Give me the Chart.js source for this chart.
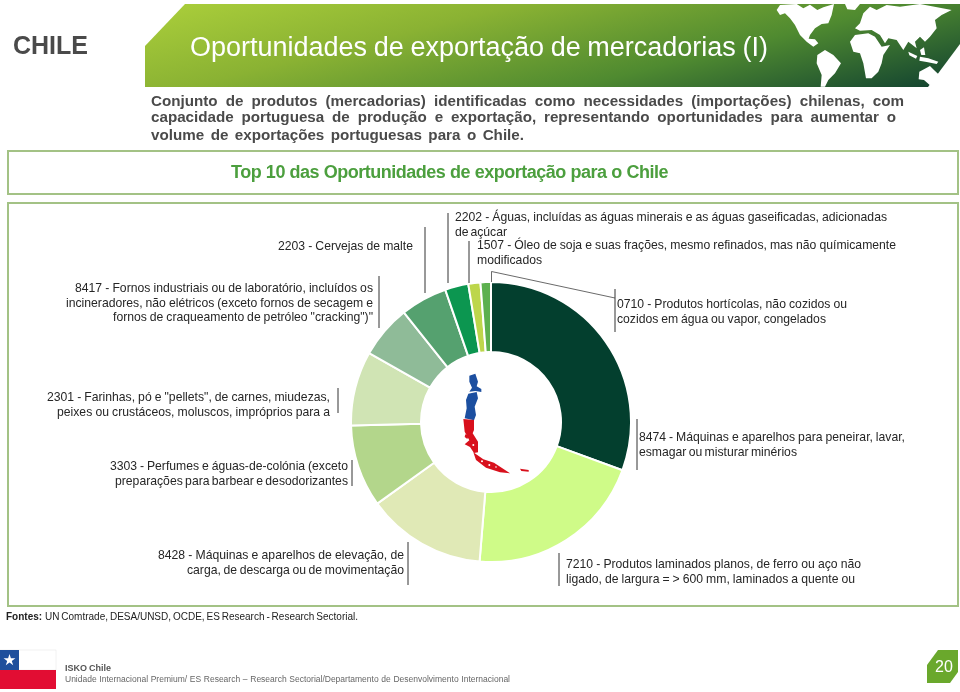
<!DOCTYPE html>
<html lang="pt">
<head>
<meta charset="utf-8">
<title>Oportunidades de exportação de mercadorias (I)</title>
<script src="https://cdn.jsdelivr.net/npm/chart.js@4"></script>
<style>
  html, body { margin: 0; padding: 0; background: #fff; }
  #page { position: relative; width: 960px; height: 692px; overflow: hidden; background: #fff;
          font-family: "Liberation Sans", Arial, sans-serif; }
  #page svg { position: absolute; }
  .box { position: absolute; box-sizing: border-box; border: 2px solid #a3c285; }
  .line { position: absolute; white-space: nowrap; line-height: 1; }
  .label { font-size: 12.2px; color: #262626; }
  .intro { font-size: 15.2px; font-weight: bold; color: #4a4a4a; }
  #donut { position: absolute; left: 350px; top: 281px; }
</style>
</head>
<body>
<div id="page">
  <svg style="left:0;top:0" width="960" height="692" viewBox="0 0 960 692">
    <defs>
      <linearGradient id="headerFill" gradientUnits="userSpaceOnUse" x1="185" y1="4" x2="250" y2="265">
        <stop offset="0" stop-color="#a8cc3a"/>
        <stop offset="0.3" stop-color="#8ab233"/>
        <stop offset="0.65" stop-color="#4f8a30"/>
        <stop offset="1" stop-color="#0f3f30"/>
      </linearGradient>
    </defs>
    <polygon points="185,4 960,4 960,44 928,87 145,87 145,46" fill="url(#headerFill)"/>
    <g transform="translate(760,0) scale(0.3333)" fill="#fff">
      <polygon points="50,30 60,15 110,12 130,25 150,14 172,30 190,22 222,12 215,45 205,70 185,72 165,85 150,105 146,116 165,118 175,130 160,140 140,125 120,105 105,75 90,55 75,40 60,45"/>
      <polygon points="172,165 195,150 220,165 243,190 225,220 205,240 195,260 182,260 185,225 170,190"/>
      <polygon points="270,125 285,105 325,100 345,110 365,140 390,135 370,165 365,190 355,215 335,235 318,235 310,190 300,160 280,155"/>
      <polygon points="285,85 300,70 310,40 330,20 350,30 380,15 420,20 480,12 575,30 545,45 525,60 530,85 510,110 495,125 480,110 465,125 470,145 445,125 430,150 410,120 385,115 375,130 360,105 335,90 300,92"/>
      <polygon points="478,215 510,198 522,210 545,232 510,256 492,240 476,238"/>
      <polygon points="445,155 472,168 468,176 448,166"/>
      <polygon points="480,170 505,175 535,185 530,192 500,186 478,182"/>
      <polygon points="255,12 300,12 285,30 262,28"/>
      <polygon points="480,150 492,142 496,165 484,165"/>
    </g>
    <!-- badge -->
    <polygon points="938,650 958,650 958,672 950,683 927,683 927,665" fill="#6aa82c"/>
    <!-- flag -->
    <rect x="0" y="650" width="56" height="20" fill="#fff" stroke="#e4e4e4" stroke-width="0.5"/>
    <rect x="0" y="650" width="19" height="20" fill="#1e4f9c"/>
    <rect x="0" y="670" width="56" height="19" fill="#e20d33"/>
    <polygon points="9.5,654 10.9,658.3 15.4,658.3 11.8,661 13.2,665.3 9.5,662.6 5.8,665.3 7.2,661 3.6,658.3 8.1,658.3" fill="#fff"/>
  </svg>

  <div class="box" style="left:7px;top:150px;width:952px;height:45px"></div>
  <div class="box" style="left:7px;top:202px;width:952px;height:405px"></div>

  <canvas id="donut" width="282" height="282" style="width:282px;height:282px"></canvas>

  <!-- mapa do Chile no centro -->
  <svg style="left:450px;top:365px" width="90" height="115" viewBox="0 0 270 345">
    <g fill="#1c4fa0">
      <polygon points="58,32 76,26 84,50 80,64 94,72 94,81 76,78 58,80 66,68 58,50"/>
      <polygon points="55,86 80,81 84,100 74,125 78,150 72,166 44,160 50,130 48,105"/>
    </g>
    <g fill="#d8101c">
      <polygon points="40,162 72,165 72,195 68,205 84,230 84,262 72,264 60,246 44,238 58,226 44,200"/>
      <polygon points="70,262 100,283 132,293 180,325 150,322 108,308 78,285"/>
      <polygon points="210,311 236,315 236,320 214,318"/>
      <polygon points="46,208 56,212 52,222 44,216"/>
    </g>
    <g fill="#fff">
      <circle cx="96" cy="289" r="3"/><circle cx="118" cy="300" r="3"/><circle cx="138" cy="306" r="2.5"/><circle cx="70" cy="240" r="3"/>
    </g>
  </svg>

  <!-- linhas de chamada -->
  <svg style="left:0;top:0" width="960" height="692" viewBox="0 0 960 692" id="leaders"></svg>
</div>

<script>
const categories = ['0710', '7210', '8428', '3303', '2301', '8417', '2203', '2202', '1507', '8474'];
const shareValues = [30.6, 20.7, 13.8, 9.5, 8.6, 6.1, 5.4, 2.7, 1.4, 1.2];
const sliceColors = ['#033f2e', '#cffb88', '#e0e9b6', '#b3d68b', '#d0e4b4', '#8fbb98', '#55a16f', '#0c9650', '#bdd64b', '#5cb04e'];

const pageTitle = 'Oportunidades de exportação de mercadorias (I)';
const countryName = 'CHILE';
const introLines = [
    'Conjunto de produtos (mercadorias) identificadas como necessidades (importações) chilenas, com',
    'capacidade portuguesa de produção e exportação, representando oportunidades para aumentar o',
    'volume de exportações portuguesas para o Chile.'
];
const chartTitle = 'Top 10 das Oportunidades de exportação para o Chile';
const label2202 = ['2202 - Águas, incluídas as águas minerais e as águas gaseificadas, adicionadas', 'de açúcar'];
const label1507 = ['1507 - Óleo de soja e suas frações, mesmo refinados, mas não químicamente', 'modificados'];
const label2203 = ['2203 - Cervejas de malte'];
const label8417 = ['8417 - Fornos industriais ou de laboratório, incluídos os', 'incineradores, não elétricos (exceto fornos de secagem e', 'fornos de craqueamento de petróleo "cracking")"'];
const label2301 = ['2301 - Farinhas, pó e "pellets", de carnes, miudezas,', 'peixes ou crustáceos, moluscos, impróprios para a'];
const label3303 = ['3303 - Perfumes e águas-de-colónia (exceto', 'preparações para barbear e desodorizantes'];
const label8428 = ['8428 - Máquinas e aparelhos de elevação, de', 'carga, de descarga ou de movimentação'];
const label0710 = ['0710 - Produtos hortícolas, não cozidos ou', 'cozidos em água ou vapor, congelados'];
const label8474 = ['8474 - Máquinas e aparelhos para peneirar, lavar,', 'esmagar ou misturar minérios'];
const label7210 = ['7210 - Produtos laminados planos, de ferro ou aço não', 'ligado, de largura = > 600 mm, laminados a quente ou'];

const page = document.getElementById('page');

// escreve uma linha e ajusta os espaços para ocupar de x0 a x1
function putLine(text, x0, x1, yCenter, className, style) {
    const el = document.createElement('div');
    el.className = 'line ' + (className || '');
    el.textContent = text;
    if (style) el.style.cssText = style;
    page.appendChild(el);
    const spaces = text.split(' ').length - 1;
    const natural = el.getBoundingClientRect().width;
    if (spaces > 0) el.style.wordSpacing = ((x1 - x0 - natural) / spaces) + 'px';
    el.style.left = x0 + 'px';
    el.style.top = (yCenter - el.getBoundingClientRect().height / 2) + 'px';
    return el;
}

function putLabel(lines, spans, firstY) {
    lines.forEach((text, i) => {
        putLine(text, spans[i][0], spans[i][1], firstY + i * 14.8, 'label');
    });
}

putLine(countryName, 13, 93, 45, '', 'font-size:25px;font-weight:bold;color:#4a4a4a');
putLine(pageTitle, 190, 768, 47, '', 'font-size:27px;color:#fff');
putLine(introLines[0], 151, 904, 101, 'intro');
putLine(introLines[1], 151, 896, 117, 'intro');
putLine(introLines[2], 151, 524, 135, 'intro');
putLine(chartTitle, 231, 668, 172, '', 'font-size:18px;font-weight:bold;color:#4c9f3e;letter-spacing:-0.5px');

putLabel(label2202, [[455, 887], [455, 507]], 217);
putLabel(label1507, [[477, 896], [477, 539]], 245);
putLabel(label2203, [[278, 413]], 246);
putLabel(label8417, [[75, 373], [66, 373], [113, 373]], 288);
putLabel(label2301, [[47, 330], [57, 330]], 397);
putLabel(label3303, [[110, 348], [115, 348]], 466);
putLabel(label8428, [[158, 404], [187, 404]], 555);
putLabel(label0710, [[617, 847], [617, 826]], 304);
putLabel(label8474, [[639, 905], [639, 797]], 437);
putLabel(label7210, [[566, 861], [566, 855]], 564);

putLine('Fontes:', 6, 43, 617, '', 'font-size:10px;font-weight:bold;color:#222');
putLine('UN Comtrade, DESA/UNSD, OCDE, ES Research - Research Sectorial.', 45, 358, 617, '', 'font-size:10px;color:#222');
putLine('ISKO Chile', 65, 111, 668, '', 'font-size:9px;font-weight:bold;color:#555');
putLine('Unidade Internacional Premium/ ES Research – Research Sectorial/Departamento de Desenvolvimento Internacional', 65, 510, 679, '', 'font-size:8.5px;color:#666');
putLine('20', 935, 952, 667, '', 'font-size:16px;color:#fff');

// linhas de chamada: x, y inicial, y final
const leaderBars = [
    [425, 227, 293], [448, 213, 283], [469, 241, 283], [379, 276, 328], [338, 388, 413],
    [352, 460, 486], [408, 542, 585], [559, 553, 586], [615, 289, 332], [637, 419, 470]
];
const leaders = document.getElementById('leaders');
let leaderMarkup = '';
leaderBars.forEach(b => {
    leaderMarkup += `<line x1="${b[0]}" x2="${b[0]}" y1="${b[1]}" y2="${b[2]}" stroke="#333" stroke-width="1"/>`;
});
leaderMarkup += '<polyline points="491.5,282 491.5,271.5 615,298" fill="none" stroke="#444" stroke-width="0.8"/>';
leaders.innerHTML = leaderMarkup;

new Chart(document.getElementById('donut').getContext('2d'), {
    type: 'doughnut',
    data: {
        labels: categories,
        datasets: [{
            data: shareValues,
            backgroundColor: sliceColors,
            borderColor: '#fff',
            borderWidth: 2
        }]
    },
    options: {
        responsive: false,
        animation: false,
        cutout: '50%',
        plugins: { legend: { display: false }, tooltip: { enabled: false } }
    }
});
</script>
</body>
</html>
